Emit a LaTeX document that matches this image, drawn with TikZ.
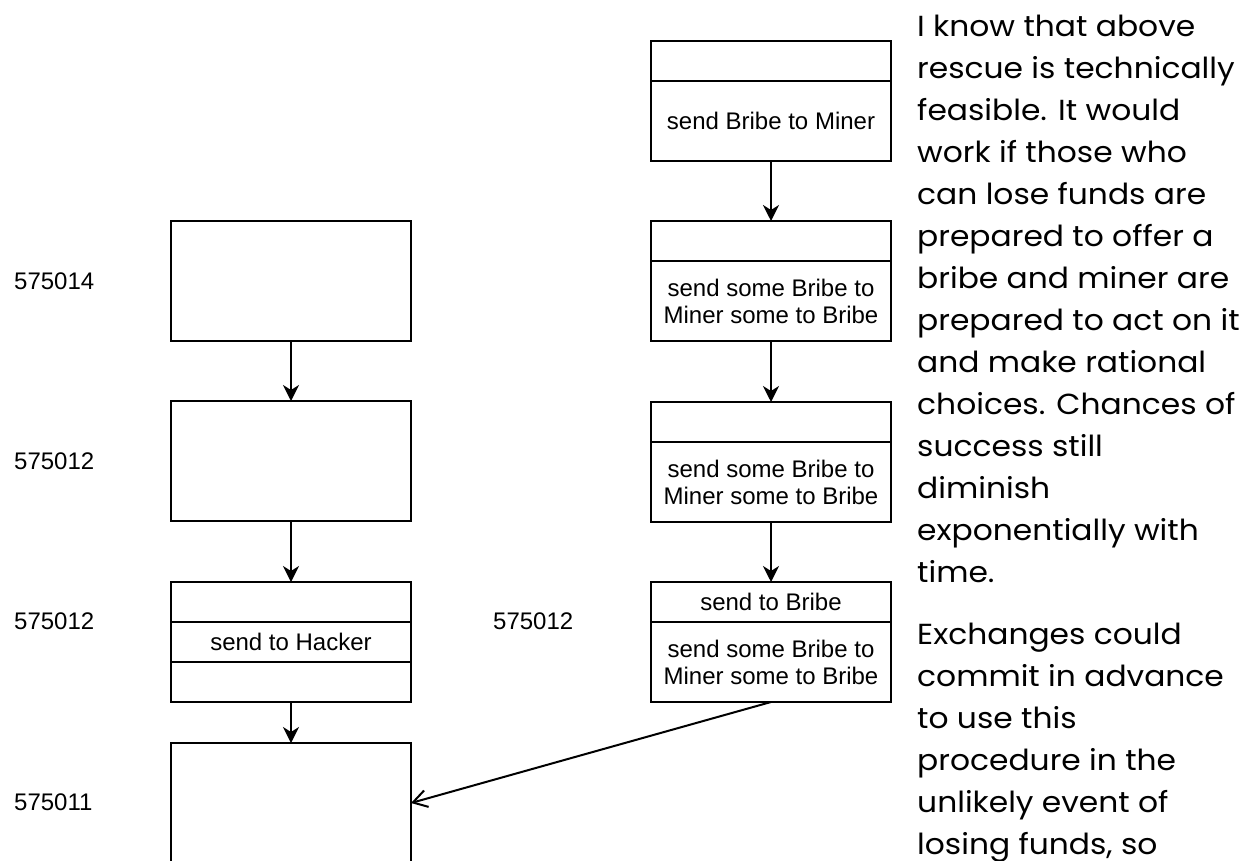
\documentclass[tikz,border=0pt]{standalone}
\usepackage{fontspec}
\setmainfont{Liberation Sans}
\newfontfamily\prosefont{Poppins}[FakeStretch=1.08]
\usetikzlibrary{arrows.meta,calc}
\begin{document}
\begin{tikzpicture}[x=1pt,y=-1pt,
  box/.style={draw, line width=2pt, minimum width=240pt, minimum height=120pt, inner sep=0pt, outer sep=0pt},
  divider/.style={line width=2pt},
  lbl/.style={font=\fontsize{24}{27}\selectfont, text=black, inner sep=0pt},
  flow/.style={line width=2pt, -{Stealth[length=16pt,width=16pt,inset=5pt]}},
  openflow/.style={line width=2pt, -{Straight Barb[length=14pt,width=17pt,line width=2pt]}},
  prose/.style={anchor=north west, inner sep=0pt, align=left, font=\prosefont\fontsize{29}{42}\selectfont}
]
\useasboundingbox (0,0) rectangle (1242,860);
\clip (0,0) rectangle (1242,860);
\fill[white] (0,0) rectangle (1242,860);

% left column
\node[box] (A) at (291,281) {};
\node[box] (B) at (291,461) {};
\node[box] (C) at (291,642) {};
\node[box] (D) at (291,803) {};
\draw[divider] ($(C.north west)+(0,40)$) -- ($(C.north east)+(0,40)$);
\draw[divider] ($(C.north west)+(0,80)$) -- ($(C.north east)+(0,80)$);
\node[lbl] (Ct) at (C.center) {send to Hacker};

% right column
\node[box] (E) at (771,101) {};
\node[box] (F) at (771,281) {};
\node[box] (G) at (771,462) {};
\node[box] (H) at (771,642) {};
\draw[divider] ($(E.north west)+(0,40)$) -- ($(E.north east)+(0,40)$);
\draw[divider] ($(F.north west)+(0,40)$) -- ($(F.north east)+(0,40)$);
\draw[divider] ($(G.north west)+(0,40)$) -- ($(G.north east)+(0,40)$);
\draw[divider] ($(H.north west)+(0,40)$) -- ($(H.north east)+(0,40)$);
\node[lbl] (Et) at ($(E.center)+(0,20)$) {send Bribe to Miner};
\node[lbl, align=center] (Ft) at ($(F.center)+(0,20)$) {send some Bribe to\\Miner some to Bribe};
\node[lbl, align=center] (Gt) at ($(G.center)+(0,20)$) {send some Bribe to\\Miner some to Bribe};
\node[lbl] (Ht) at ($(H.center)+(0,-40)$) {send to Bribe};
\node[lbl, align=center] (Hb) at ($(H.center)+(0,20)$) {send some Bribe to\\Miner some to Bribe};

% block labels
\node[lbl, anchor=west] (LA) at (14,281) {575014};
\node[lbl, anchor=west] (LB) at (14,461) {575012};
\node[lbl, anchor=west] (LC) at (14,621) {575012};
\node[lbl, anchor=west] (LD) at (14,802) {575011};
\node[lbl, anchor=west] (LH) at (493,621) {575012};

% connectors
\draw[flow] (A.south) -- (B.north);
\draw[flow] (B.south) -- (C.north);
\draw[flow] (C.south) -- (D.north);
\draw[flow] (E.south) -- (F.north);
\draw[flow] (F.south) -- (G.north);
\draw[flow] (G.south) -- (H.north);
\draw[openflow] (H.south) -- (D.east);

% prose
\node[prose] (P) at (917,15) {I know that above\\rescue is technically\\feasible. It would\\work if those who\\can lose funds are\\prepared to offer a\\bribe and miner are\\prepared to act on it\\and make rational\\choices. Chances of\\success still\\diminish\\exponentially with\\time.\\[20pt]Exchanges could\\commit in advance\\to use this\\procedure in the\\unlikely event of\\losing funds, so};
\end{tikzpicture}
\end{document}
